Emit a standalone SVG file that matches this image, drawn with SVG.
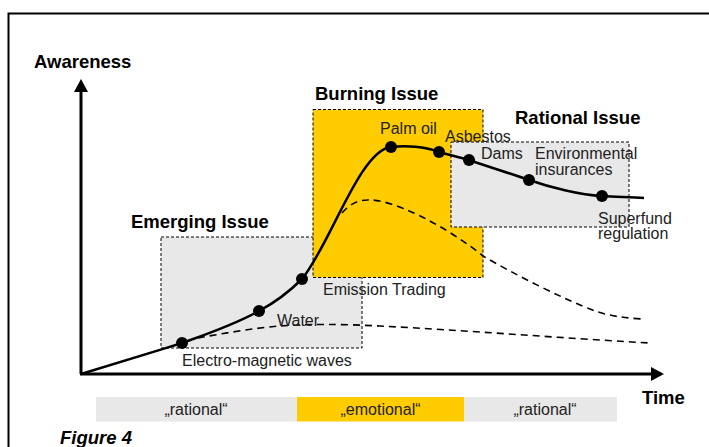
<svg xmlns="http://www.w3.org/2000/svg" width="709" height="447" viewBox="0 0 709 447">
  <style>
    .title { font-family: "Liberation Sans", Arial, sans-serif; font-weight: bold; font-size: 18.5px; fill: #000; }
    .lbl { font-family: "Liberation Sans", Arial, sans-serif; font-size: 16px; fill: #222; }
    .zone { stroke: #000; stroke-width: 1; stroke-dasharray: 3 2; }
    .grey { fill: #e8e8e8; }
    .yellow { fill: #ffcc00; }
    .axis { stroke: #000; stroke-width: 3; fill: none; }
    .trend { stroke: #000; stroke-width: 2.5; fill: none; }
    .fade { stroke: #000; stroke-width: 1.6; fill: none; stroke-dasharray: 7 5; }
    .dot { fill: #000; }
  </style>
  <defs>
    <marker id="arrow" markerUnits="userSpaceOnUse" markerWidth="14" markerHeight="14" refX="1" refY="7" orient="auto">
      <path d="M0,0 L13,7 L0,14 Z" fill="#000"/>
    </marker>
  </defs>

  <rect width="709" height="447" fill="#fff"/>
  <!-- frame -->
  <polyline points="8.5,447 8.5,13.5 709,13.5" fill="none" stroke="#000" stroke-width="2"/>

  <!-- issue zones -->
  <g id="emerging-issue">
    <rect class="zone grey" x="161" y="237" width="201" height="111"/>
    <text class="title" x="131" y="228">Emerging Issue</text>
  </g>
  <g id="burning-issue">
    <rect class="zone yellow" x="313" y="109.5" width="170" height="168"/>
    <text class="title" x="315" y="100">Burning Issue</text>
  </g>
  <g id="rational-issue">
    <rect class="zone grey" x="451" y="142" width="178" height="85"/>
    <text class="title" x="515" y="124">Rational Issue</text>
  </g>

  <!-- axes and curves -->
  <g id="connectors">
    <line class="axis" x1="81" y1="374" x2="81" y2="91" marker-end="url(#arrow)"/>
    <line class="axis" x1="80" y1="374" x2="652" y2="374" marker-end="url(#arrow)"/>
    <path class="trend" d="M81,374 C120,362 150,353 182,343 C207,334 234,325 259,311 C274,303 288,293 302,279 C330,245 360,150 391,147 C405,145.5 425,146 439,152 C449,155 459,157 469,160 C489,167 509,173 529,180 C549,187 580,195 602,196 C616,197 630,197 644,198"/>
    <path class="fade" d="M342,213 C350,204 358,200 367,200 C390,198 445,225 483,256 C510,272 565,300 595,311 C610,316 625,318 642,319"/>
    <path class="fade" d="M198,338 C225,333 255,328 280,326 C310,324 340,324 380,326 C460,330 560,338 650,343"/>
  </g>

  <!-- issues along the curve -->
  <g id="electro-magnetic-waves">
    <circle class="dot" cx="182" cy="343" r="6"/>
    <text class="lbl" x="182" y="366">Electro-magnetic waves</text>
  </g>
  <g id="water">
    <circle class="dot" cx="259" cy="311" r="6"/>
    <text class="lbl" x="277" y="326">Water</text>
  </g>
  <g id="emission-trading">
    <circle class="dot" cx="302" cy="279" r="6"/>
    <text class="lbl" x="323" y="295">Emission Trading</text>
  </g>
  <g id="palm-oil">
    <circle class="dot" cx="391" cy="147" r="6"/>
    <text class="lbl" x="380" y="134">Palm oil</text>
  </g>
  <g id="asbestos">
    <circle class="dot" cx="439" cy="152" r="6"/>
    <text class="lbl" x="445" y="142">Asbestos</text>
  </g>
  <g id="dams">
    <circle class="dot" cx="469" cy="160" r="6"/>
    <text class="lbl" x="481" y="159">Dams</text>
  </g>
  <g id="environmental-insurances">
    <circle class="dot" cx="529" cy="180" r="6"/>
    <text class="lbl" x="535" y="159">Environmental</text>
    <text class="lbl" x="535" y="175">insurances</text>
  </g>
  <g id="superfund-regulation">
    <circle class="dot" cx="602" cy="196" r="6"/>
    <text class="lbl" x="598" y="224">Superfund</text>
    <text class="lbl" x="598" y="239">regulation</text>
  </g>

  <!-- axis labels -->
  <g id="axis-labels">
    <text class="title" x="34" y="68">Awareness</text>
    <text class="title" x="642" y="404">Time</text>
  </g>

  <!-- tone band -->
  <g id="tone-band">
    <rect class="grey" x="96" y="397" width="201" height="24.5"/>
    <rect class="yellow" x="297" y="397" width="167" height="24.5"/>
    <rect class="grey" x="464" y="397" width="153" height="24.5"/>
    <text class="lbl" x="196" y="415" text-anchor="middle">„rational“</text>
    <text class="lbl" x="380.5" y="415" text-anchor="middle">„emotional“</text>
    <text class="lbl" x="545" y="415" text-anchor="middle">„rational“</text>
  </g>

  <text class="title" x="60" y="444" font-style="italic">Figure 4</text>
</svg>
